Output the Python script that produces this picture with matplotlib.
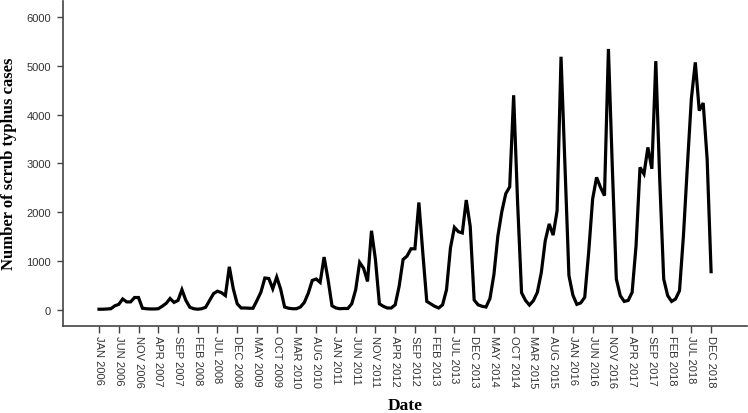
import numpy as np
import matplotlib
matplotlib.use("Agg")
import matplotlib.pyplot as plt

# monthly scrub typhus cases, Jan 2006 - Dec 2018
cases_2006 = [10, 10, 15, 20, 80, 110, 220, 160, 160, 250, 250, 30]
cases_2007 = [20, 15, 15, 20, 70, 130, 230, 150, 190, 410, 190, 50]
cases_2008 = [20, 10, 20, 50, 190, 330, 380, 350, 290, 880, 430, 120]
cases_2009 = [35, 35, 30, 30, 190, 360, 650, 640, 430, 670, 420, 55]
cases_2010 = [30, 20, 20, 55, 150, 340, 600, 630, 560, 1080, 620, 80]
cases_2011 = [35, 20, 25, 25, 120, 410, 970, 850, 580, 1620, 1030, 120]
cases_2012 = [70, 35, 35, 100, 480, 1030, 1100, 1250, 1250, 2200, 1160, 170]
cases_2013 = [120, 70, 35, 100, 410, 1270, 1690, 1600, 1575, 2250, 1710, 200]
cases_2014 = [100, 70, 55, 230, 720, 1510, 2010, 2380, 2520, 4400, 2200, 350]
cases_2015 = [190, 95, 185, 355, 760, 1415, 1760, 1530, 2030, 5190, 2950, 700]
cases_2016 = [300, 110, 140, 255, 1180, 2270, 2715, 2510, 2340, 5350, 2890, 630]
cases_2017 = [290, 170, 190, 355, 1315, 2920, 2785, 3330, 2890, 5100, 2650, 630]
cases_2018 = [290, 170, 220, 390, 1520, 2955, 4325, 5075, 4085, 4240, 3090, 780]

cases = (cases_2006 + cases_2007 + cases_2008 + cases_2009 + cases_2010 +
         cases_2011 + cases_2012 + cases_2013 + cases_2014 + cases_2015 +
         cases_2016 + cases_2017 + cases_2018)

months = ["JAN", "FEB", "MAR", "APR", "MAY", "JUN",
          "JUL", "AUG", "SEP", "OCT", "NOV", "DEC"]
labels = [f"{months[i % 12]} {2006 + i // 12}" for i in range(len(cases))]
tick_idx = list(range(0, len(cases), 5))
y_ticks = [0, 1000, 2000, 3000, 4000, 5000, 6000]

fig = plt.figure(figsize=(7.48, 4.14), dpi=100)
ax = fig.add_axes([0.0838, 0.2109, 0.9149, 0.7843])

x = np.arange(len(cases))
ax.plot(x, cases, color="black", lw=2.3, solid_joinstyle="miter")

ax.set_xlim(-9.2, 164.1)
ax.set_ylim(-328, 6334)
ax.set_yticks(y_ticks)
ax.set_xticks(tick_idx)
ax.set_xticklabels([labels[i] for i in tick_idx], rotation=-90,
                   fontsize=8, family="Liberation Sans", color="#333333")
for t in ax.get_yticklabels():
    t.set_family("Liberation Sans")
    t.set_fontsize(8)
    t.set_color("#333333")

for side in ["top", "right"]:
    ax.spines[side].set_visible(False)
for side in ["left", "bottom"]:
    ax.spines[side].set_color("#444444")
    ax.spines[side].set_linewidth(1.2)
ax.tick_params(axis="x", length=5, width=1, color="#444444", pad=2)
ax.tick_params(axis="y", length=4.5, width=1, color="#444444", pad=4)

# axis titles placed in figure pixels, as in the original
fig.text(9 / 748, 1 - 164 / 414, "Number of scrub typhus cases",
         family="Liberation Serif", fontweight="bold", fontsize=12,
         rotation=90, ha="center", va="center")
fig.text(405 / 748, 1 - 406 / 414, "Date", family="Liberation Serif",
         fontweight="bold", fontsize=12.5, ha="center", va="center")

fig.savefig("out.png", dpi=100)
